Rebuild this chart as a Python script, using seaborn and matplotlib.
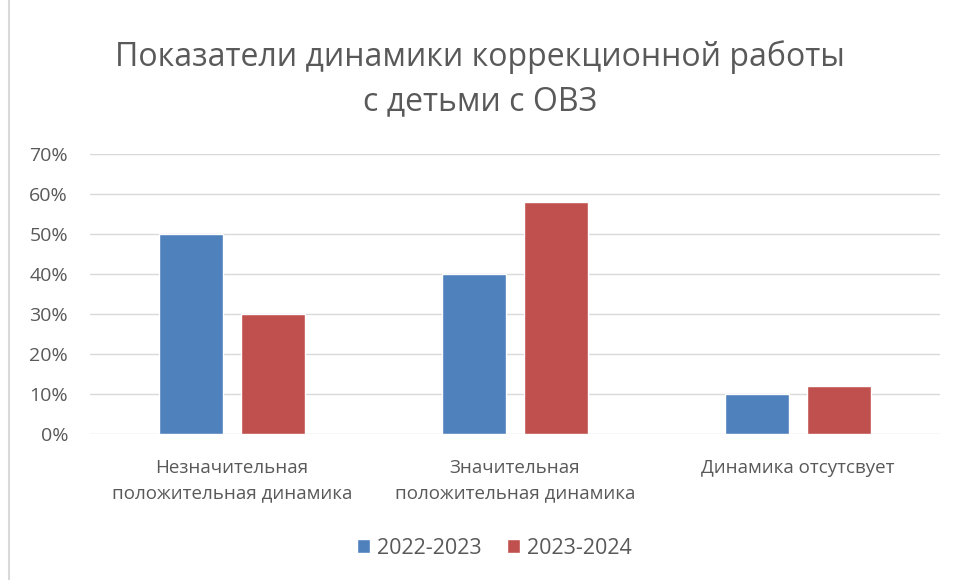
import pandas as pd
import matplotlib.pyplot as plt
import seaborn as sns
from matplotlib.patches import Rectangle
from matplotlib.ticker import PercentFormatter

# Data
categories = ["Незначительная\nположительная динамика",
              "Значительная\nположительная динамика",
              "Динамика отсутсвует"]
years = ["2022-2023", "2023-2024"]
values_2022 = [0.50, 0.40, 0.10]
values_2023 = [0.30, 0.58, 0.12]

df = pd.DataFrame({
    "category": categories * 2,
    "year": [years[0]] * 3 + [years[1]] * 3,
    "value": values_2022 + values_2023,
})

sns.set_style("white")
plt.rcParams["font.family"] = ["Open Sans", "DejaVu Sans"]
text_color = "#595959"

fig = plt.figure(figsize=(9.6, 5.8), dpi=100)
ax = fig.add_axes([0.094, 0.252, 0.885, 0.482])

sns.barplot(data=df, x="category", y="value", hue="year",
            palette=["#4F81BD", "#C0504D"], width=0.58, gap=0.22,
            saturation=1, ax=ax)

ax.set_ylim(0, 0.70)
ax.set_yticks([i / 10 for i in range(8)])
ax.yaxis.set_major_formatter(PercentFormatter(1.0, decimals=0))
ax.set_xlim(-0.5, 2.5)
ax.grid(axis="y", color="#D9D9D9", linewidth=1)
ax.set_axisbelow(True)
for s in ax.spines.values():
    s.set_visible(False)
ax.tick_params(axis="both", length=0, colors=text_color)
ax.tick_params(axis="x", pad=18, labelsize=13.5)
ax.tick_params(axis="y", pad=16, labelsize=14)
for lbl in ax.get_xticklabels():
    lbl.set_linespacing(1.55)
ax.set_xlabel("")
ax.set_ylabel("")

fig.suptitle("Показатели динамики коррекционной работы\nс детьми с ОВЗ",
             y=0.93, va="top", fontsize=23, color=text_color, linespacing=1.45)

ax.legend(loc="center", bbox_to_anchor=(0.515, 0.055), bbox_transform=fig.transFigure,
          ncol=2, frameon=False, fontsize=15.5, labelcolor=text_color,
          handlelength=0.6, handleheight=0.6, handletextpad=0.3, columnspacing=1.2)

# light chart frame
fig.patches.append(Rectangle((0.009, -0.01), 1.2, 1.2, transform=fig.transFigure,
                             fill=False, edgecolor="#D9D9D9", linewidth=1.5))

fig.savefig("out.png", dpi=100)
